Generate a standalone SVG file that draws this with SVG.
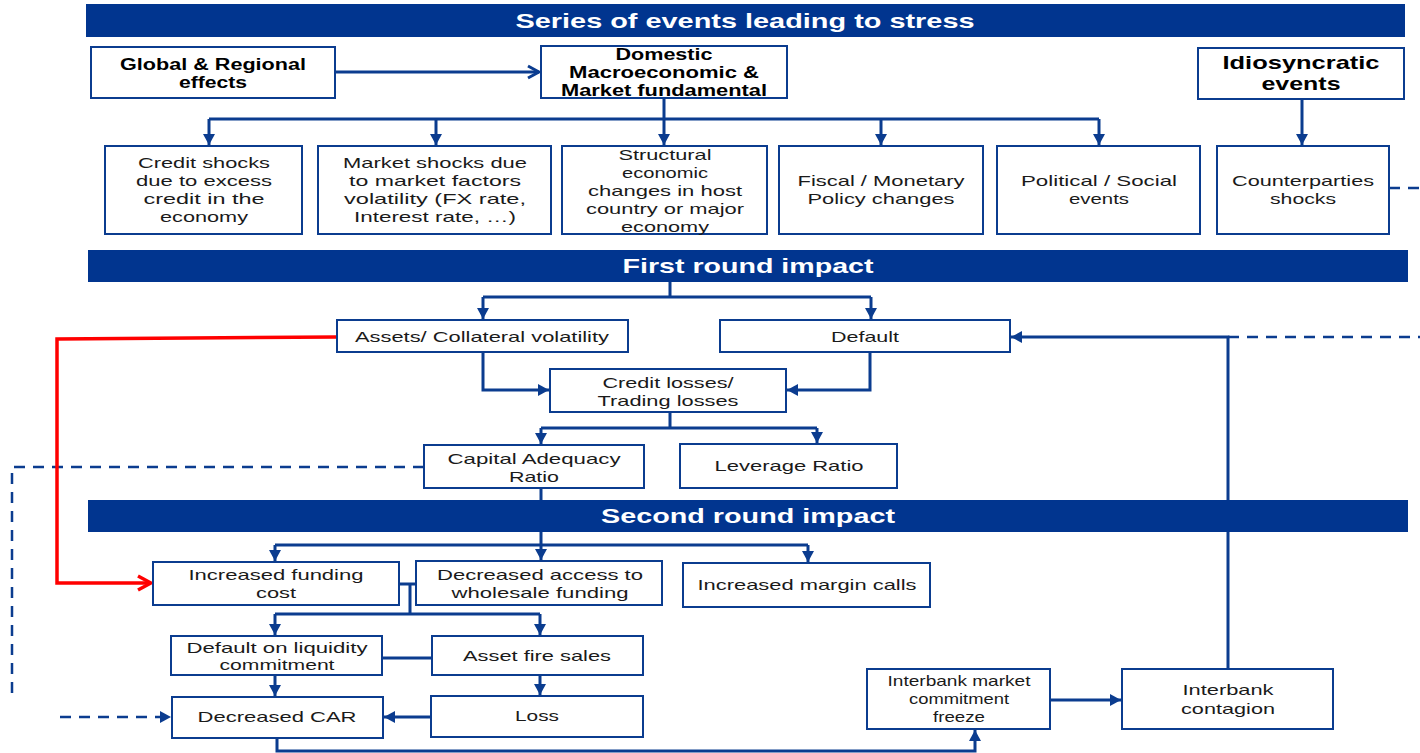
<svg xmlns="http://www.w3.org/2000/svg" width="1420" height="753" viewBox="0 0 1420 753">
  <style>
    .bg { fill: #ffffff; }
    .banner rect { fill: #01358F; }
    .banner text { fill: #ffffff; font-family: "Liberation Sans", Arial, sans-serif; font-weight: bold; font-size: 21px; text-anchor: middle; }
    .node rect { fill: #ffffff; stroke: #0B3C8F; stroke-width: 2; }
    .node text { fill: #1a1a1a; font-family: "Liberation Sans", Arial, sans-serif; font-size: 15px; text-anchor: middle; }
    .node text.b { font-weight: bold; font-size: 16px; fill: #000000; }
    .node text.bb { font-weight: bold; font-size: 19px; fill: #000000; }
    .link { fill: none; stroke: #0B3C8F; stroke-width: 3; }
    .dash { fill: none; stroke: #0B3C8F; stroke-width: 2.5; stroke-dasharray: 11 8; }
    .red { fill: none; stroke: #FF0000; stroke-width: 3.5; }
  </style>
  <defs>
    <marker id="tri" markerUnits="userSpaceOnUse" markerWidth="12" markerHeight="12" refX="11" refY="6" orient="auto">
      <path d="M0,0 L11,6 L0,12 z" fill="#0B3C8F"/>
    </marker>
    <marker id="chev" markerUnits="userSpaceOnUse" markerWidth="16" markerHeight="16" refX="13" refY="8" orient="auto">
      <path d="M2,2 L13,8 L2,14" fill="none" stroke="#0B3C8F" stroke-width="3"/>
    </marker>
    <marker id="chevRed" markerUnits="userSpaceOnUse" markerWidth="18" markerHeight="18" refX="15" refY="9" orient="auto">
      <path d="M2,2 L15,9 L2,16" fill="none" stroke="#FF0000" stroke-width="3.5"/>
    </marker>
  </defs>

  <rect class="bg" x="0" y="0" width="1420" height="753"/>

  <!-- connectors -->
  <g id="connectors">
    <path class="link" d="M335,72 H539" marker-end="url(#chev)"/>
    <path class="link" d="M664,98 V119 M209,119 H1099"/>
    <path class="link" d="M209,119 V145" marker-end="url(#tri)"/>
    <path class="link" d="M436,119 V145" marker-end="url(#tri)"/>
    <path class="link" d="M664,119 V145" marker-end="url(#tri)"/>
    <path class="link" d="M881,119 V145" marker-end="url(#tri)"/>
    <path class="link" d="M1099,119 V145" marker-end="url(#tri)"/>
    <path class="link" d="M1302,99 V145" marker-end="url(#tri)"/>
    <path class="dash" d="M1389,188 H1420"/>

    <path class="link" d="M670,282 V297 M483,297 H871"/>
    <path class="link" d="M483,297 V319" marker-end="url(#tri)"/>
    <path class="link" d="M871,297 V319" marker-end="url(#tri)"/>
    <path class="link" d="M483,352 V390 H549" marker-end="url(#tri)"/>
    <path class="link" d="M870,352 V390 H787" marker-end="url(#tri)"/>
    <path class="link" d="M670,412 V428 M541,428 H817"/>
    <path class="link" d="M541,428 V444" marker-end="url(#tri)"/>
    <path class="link" d="M817,428 V443" marker-end="url(#tri)"/>
    <path class="link" d="M541,488 V500"/>

    <path class="link" d="M1228,669 V337 H1011" marker-end="url(#tri)"/>
    <path class="dash" d="M1228,337 H1420"/>
    <path class="dash" d="M424,467 H12 V700"/>
    <path class="red" d="M337,337 L57,339 V583 H151" marker-end="url(#chevRed)"/>

    <path class="link" d="M541,532 V545 M275,545 H808"/>
    <path class="link" d="M275,545 V561" marker-end="url(#tri)"/>
    <path class="link" d="M541,545 V560" marker-end="url(#tri)"/>
    <path class="link" d="M808,545 V562" marker-end="url(#tri)"/>

    <path class="link" d="M399,584 H416 M410,584 V614 M275,614 H540"/>
    <path class="link" d="M275,614 V635" marker-end="url(#tri)"/>
    <path class="link" d="M540,614 V635" marker-end="url(#tri)"/>
    <path class="link" d="M382,658 H432"/>
    <path class="link" d="M275,675 V696" marker-end="url(#tri)"/>
    <path class="link" d="M540,675 V695" marker-end="url(#tri)"/>
    <path class="link" d="M431,717 H384" marker-end="url(#tri)"/>
    <path class="dash" d="M60,717 H171" marker-end="url(#tri)"/>
    <path class="link" d="M277,738 V751 H975 V730" marker-end="url(#tri)"/>
    <path class="link" d="M1050,700 H1121" marker-end="url(#tri)"/>
  </g>

  <!-- section banners -->
  <g id="banner-stress" class="banner">
    <rect x="86" y="4" width="1319" height="33"/>
    <text x="745" y="28" textLength="459" lengthAdjust="spacingAndGlyphs">Series of events leading to stress</text>
  </g>
  <g id="banner-first" class="banner">
    <rect x="88" y="250" width="1320" height="32"/>
    <text x="748" y="273" textLength="251" lengthAdjust="spacingAndGlyphs">First round impact</text>
  </g>
  <g id="banner-second" class="banner">
    <rect x="88" y="500" width="1320" height="32"/>
    <text x="748" y="523" textLength="294" lengthAdjust="spacingAndGlyphs">Second round impact</text>
  </g>

  <!-- event sources -->
  <g id="global" class="node">
    <rect x="91" y="47" width="244" height="51"/>
    <text class="b" x="213" y="70" textLength="186" lengthAdjust="spacingAndGlyphs">Global &amp; Regional</text>
    <text class="b" x="213" y="88" textLength="68" lengthAdjust="spacingAndGlyphs">effects</text>
  </g>
  <g id="domestic" class="node">
    <rect x="541" y="46" width="246" height="52"/>
    <text class="b" x="664" y="60" textLength="97" lengthAdjust="spacingAndGlyphs">Domestic</text>
    <text class="b" x="664" y="78" textLength="190" lengthAdjust="spacingAndGlyphs">Macroeconomic &amp;</text>
    <text class="b" x="664" y="96" textLength="206" lengthAdjust="spacingAndGlyphs">Market fundamental</text>
  </g>
  <g id="idiosyncratic" class="node">
    <rect x="1198" y="48" width="206" height="51"/>
    <text class="bb" x="1301" y="69" textLength="157" lengthAdjust="spacingAndGlyphs">Idiosyncratic</text>
    <text class="bb" x="1301" y="90" textLength="79" lengthAdjust="spacingAndGlyphs">events</text>
  </g>

  <!-- shocks -->
  <g id="credit-shocks" class="node">
    <rect x="105" y="146" width="197" height="88"/>
    <text x="204" y="168" textLength="132" lengthAdjust="spacingAndGlyphs">Credit shocks</text>
    <text x="204" y="186" textLength="136" lengthAdjust="spacingAndGlyphs">due to excess</text>
    <text x="204" y="204" textLength="121" lengthAdjust="spacingAndGlyphs">credit in the</text>
    <text x="204" y="222" textLength="88" lengthAdjust="spacingAndGlyphs">economy</text>
  </g>
  <g id="market-shocks" class="node">
    <rect x="318" y="146" width="233" height="88"/>
    <text x="435" y="168" textLength="184" lengthAdjust="spacingAndGlyphs">Market shocks due</text>
    <text x="435" y="186" textLength="172" lengthAdjust="spacingAndGlyphs">to market factors</text>
    <text x="435" y="204" textLength="182" lengthAdjust="spacingAndGlyphs">volatility  (FX rate,</text>
    <text x="435" y="222" textLength="162" lengthAdjust="spacingAndGlyphs">Interest  rate, …)</text>
  </g>
  <g id="structural" class="node">
    <rect x="562" y="146" width="205" height="88"/>
    <text x="665" y="160" textLength="93" lengthAdjust="spacingAndGlyphs">Structural</text>
    <text x="665" y="178" textLength="86" lengthAdjust="spacingAndGlyphs">economic</text>
    <text x="665" y="196" textLength="154" lengthAdjust="spacingAndGlyphs">changes in host</text>
    <text x="665" y="214" textLength="158" lengthAdjust="spacingAndGlyphs">country or major</text>
    <text x="665" y="232" textLength="88" lengthAdjust="spacingAndGlyphs">economy</text>
  </g>
  <g id="fiscal" class="node">
    <rect x="779" y="146" width="204" height="88"/>
    <text x="881" y="186" textLength="167" lengthAdjust="spacingAndGlyphs">Fiscal / Monetary</text>
    <text x="881" y="204" textLength="147" lengthAdjust="spacingAndGlyphs">Policy changes</text>
  </g>
  <g id="political" class="node">
    <rect x="997" y="146" width="203" height="88"/>
    <text x="1099" y="186" textLength="156" lengthAdjust="spacingAndGlyphs">Political / Social</text>
    <text x="1099" y="204" textLength="60" lengthAdjust="spacingAndGlyphs">events</text>
  </g>
  <g id="counterparties" class="node">
    <rect x="1217" y="146" width="172" height="88"/>
    <text x="1303" y="186" textLength="142" lengthAdjust="spacingAndGlyphs">Counterparties</text>
    <text x="1303" y="204" textLength="66" lengthAdjust="spacingAndGlyphs">shocks</text>
  </g>

  <!-- first round -->
  <g id="assets" class="node">
    <rect x="337" y="320" width="291" height="32"/>
    <text x="482" y="342" textLength="254" lengthAdjust="spacingAndGlyphs">Assets/  Collateral  volatility</text>
  </g>
  <g id="default" class="node">
    <rect x="720" y="320" width="290" height="32"/>
    <text x="865" y="342" textLength="68" lengthAdjust="spacingAndGlyphs">Default</text>
  </g>
  <g id="credit-losses" class="node">
    <rect x="550" y="369" width="236" height="43"/>
    <text x="668" y="388" textLength="131" lengthAdjust="spacingAndGlyphs">Credit losses/</text>
    <text x="668" y="406" textLength="141" lengthAdjust="spacingAndGlyphs">Trading losses</text>
  </g>
  <g id="car" class="node">
    <rect x="424" y="445" width="220" height="43"/>
    <text x="534" y="464" textLength="173" lengthAdjust="spacingAndGlyphs">Capital  Adequacy</text>
    <text x="534" y="482" textLength="50" lengthAdjust="spacingAndGlyphs">Ratio</text>
  </g>
  <g id="leverage" class="node">
    <rect x="680" y="444" width="217" height="44"/>
    <text x="789" y="471" textLength="149" lengthAdjust="spacingAndGlyphs">Leverage  Ratio</text>
  </g>

  <!-- second round -->
  <g id="funding-cost" class="node">
    <rect x="153" y="562" width="246" height="43"/>
    <text x="276" y="580" textLength="175" lengthAdjust="spacingAndGlyphs">Increased funding</text>
    <text x="276" y="598" textLength="40" lengthAdjust="spacingAndGlyphs">cost</text>
  </g>
  <g id="wholesale" class="node">
    <rect x="416" y="561" width="246" height="44"/>
    <text x="540" y="580" textLength="206" lengthAdjust="spacingAndGlyphs">Decreased access to</text>
    <text x="540" y="598" textLength="177" lengthAdjust="spacingAndGlyphs">wholesale  funding</text>
  </g>
  <g id="margin-calls" class="node">
    <rect x="683" y="563" width="247" height="44"/>
    <text x="807" y="590" textLength="219" lengthAdjust="spacingAndGlyphs">Increased margin calls</text>
  </g>
  <g id="liquidity-default" class="node">
    <rect x="171" y="636" width="211" height="39"/>
    <text x="277" y="653" textLength="181" lengthAdjust="spacingAndGlyphs">Default  on liquidity</text>
    <text x="277" y="670" textLength="115" lengthAdjust="spacingAndGlyphs">commitment</text>
  </g>
  <g id="fire-sales" class="node">
    <rect x="432" y="636" width="211" height="39"/>
    <text x="537" y="661" textLength="148" lengthAdjust="spacingAndGlyphs">Asset  fire sales</text>
  </g>
  <g id="decreased-car" class="node">
    <rect x="172" y="697" width="211" height="41"/>
    <text x="277" y="722" textLength="159" lengthAdjust="spacingAndGlyphs">Decreased  CAR</text>
  </g>
  <g id="loss" class="node">
    <rect x="431" y="696" width="212" height="41"/>
    <text x="537" y="721" textLength="44" lengthAdjust="spacingAndGlyphs">Loss</text>
  </g>
  <g id="interbank-freeze" class="node">
    <rect x="867" y="669" width="183" height="60"/>
    <text x="959" y="686" textLength="143" lengthAdjust="spacingAndGlyphs">Interbank market</text>
    <text x="959" y="704" textLength="100" lengthAdjust="spacingAndGlyphs">commitment</text>
    <text x="959" y="722" textLength="52" lengthAdjust="spacingAndGlyphs">freeze</text>
  </g>
  <g id="interbank-contagion" class="node">
    <rect x="1122" y="669" width="211" height="60"/>
    <text x="1228" y="695" textLength="91" lengthAdjust="spacingAndGlyphs">Interbank</text>
    <text x="1228" y="714" textLength="94" lengthAdjust="spacingAndGlyphs">contagion</text>
  </g>
</svg>
